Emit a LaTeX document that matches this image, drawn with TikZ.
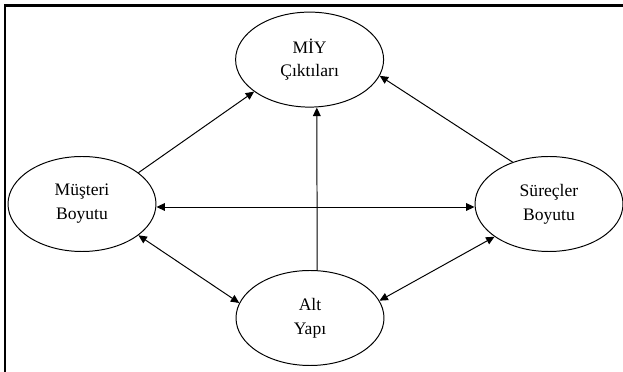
\documentclass[tikz,border=0pt]{standalone}
\usepackage{fontspec}
\setmainfont{Liberation Serif}
\usepackage{tikz}
\usetikzlibrary{arrows.meta, calc, shapes.geometric}

\tikzset{
    boyut/.style={draw, ellipse, line width=0.7pt, minimum width=3.7cm, minimum height=2.375cm,
        inner sep=0pt, align=center, font=\fontsize{12.5}{17}\selectfont},
    ok/.style={line width=0.7pt, -{Triangle[length=6pt,width=5.5pt]}},
    ciftok/.style={line width=0.7pt, {Triangle[length=6pt,width=5.5pt]}-{Triangle[length=6pt,width=5.5pt]}}
}

\begin{document}
\begin{tikzpicture}
        \useasboundingbox (0,0) rectangle (15.575,-9.3);
        \coordinate (K1) at (0.125,-9.3);
        \coordinate (K2) at (0.125,-0.1375);
        \coordinate (K3) at (15.575,-0.1375);
        \draw[line width=1.8pt] (K1) -- (K2) -- (K3);

        \node[boyut] (miy) at (7.74,-1.49) {MİY\\Çıktıları};
        \node[boyut] (musteri) at (2.05,-5.1) {Müşteri\\Boyutu};
        \node[boyut] (surec) at (13.725,-5.1) {Süreçler\\Boyutu};
        \node[boyut] (altyapi) at (7.75,-7.95) {Alt\\Yapı};

        \draw[ok] (musteri.29) -- (miy.210);
        \draw[ok] (surec.131) -- (miy.-13);
        \draw[ok] ([xshift=0.18cm]altyapi.north) -- ([xshift=0.18cm]miy.south);

        \draw[ciftok] ([yshift=-0.075cm]musteri.east) -- ([yshift=-0.075cm]surec.west);
        \draw[ciftok] (musteri.-29) -- (altyapi.168);
        \draw[ciftok] (surec.211) -- (altyapi.14);
    \end{tikzpicture}
\end{document}
